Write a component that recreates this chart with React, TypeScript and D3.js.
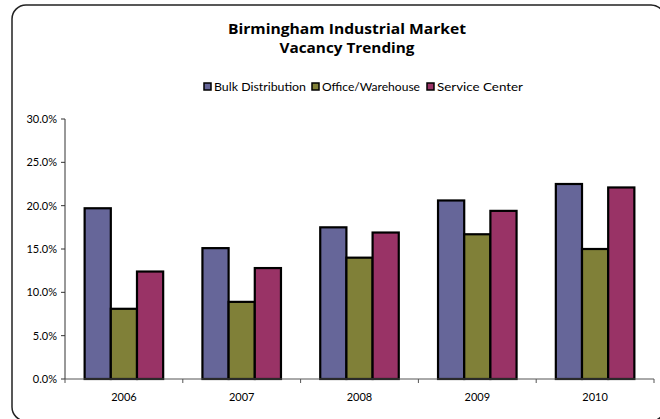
import React from "react";
import * as d3 from "d3";

const years = ["2006", "2007", "2008", "2009", "2010"];
const seriesNames = ["Bulk Distribution", "Office/Warehouse", "Service Center"];
const bulkDistribution = [19.7, 15.1, 17.5, 20.6, 22.5];
const officeWarehouse = [8.1, 8.9, 14.0, 16.7, 15.0];
const serviceCenter = [12.4, 12.8, 16.9, 19.4, 22.1];
const seriesColors = ["#666699", "#808038", "#993366"];
const yTicks = [0, 5, 10, 15, 20, 25, 30];

export default function App() {
  const W = 660, H = 419;
  const left = 65, right = 654, top = 119, bottom = 379;
  const font = "'Gill Sans', Lato, 'Open Sans', sans-serif";
  const titleFont = "'Open Sans', Lato, sans-serif";
  const x = d3.scaleBand().domain(years).range([left, right]).paddingInner(0).paddingOuter(0);
  const x1 = d3.scaleBand().domain(seriesNames).range([0, x.bandwidth()]).paddingInner(0).paddingOuter(0.75);
  const y = d3.scaleLinear().domain([0, 30]).range([bottom, top]);
  const data = [bulkDistribution, officeWarehouse, serviceCenter];

  const legendItems = [
    { name: seriesNames[0], x: 204, w: 92 },
    { name: seriesNames[1], x: 312, w: 98 },
    { name: seriesNames[2], x: 427, w: 86 },
  ];

  return (
    <svg width={W} height={H} style={{ position: "absolute", left: 0, top: 0, background: "#fff" }}>
      <rect x={12} y={5} width={653} height={416} rx={14} ry={14} fill="#fff" stroke="#222" strokeWidth={1.5} />
      <text x={347} y={34} textAnchor="middle" fontFamily={titleFont} fontWeight="bold" fontSize={15} fill="#000"
        textLength={238} lengthAdjust="spacingAndGlyphs">
        Birmingham Industrial Market
      </text>
      <text x={347} y={53} textAnchor="middle" fontFamily={titleFont} fontWeight="bold" fontSize={15} fill="#000"
        textLength={135} lengthAdjust="spacingAndGlyphs">
        Vacancy Trending
      </text>
      {legendItems.map((l, i) => (
        <g key={l.name}>
          <rect x={l.x} y={83} width={7} height={7} fill={seriesColors[i]} stroke="#000" strokeWidth={1.5} />
          <text x={l.x + 10} y={91} fontFamily={font} fontSize={11} fill="#000"
            textLength={l.w} lengthAdjust="spacingAndGlyphs">{l.name}</text>
        </g>
      ))}
      {years.map((yr, j) => (
        <g key={yr}>
          {seriesNames.map((s, i) => {
            const v = data[i][j];
            const bx = (x(yr) as number) + (x1(s) as number);
            return (
              <rect key={s} x={bx} y={y(v)} width={x1.bandwidth()} height={y(0) - y(v)}
                fill={seriesColors[i]} stroke="#000" strokeWidth={2.2} />
            );
          })}
        </g>
      ))}
      <line x1={left} x2={left} y1={top} y2={bottom} stroke="#333" strokeWidth={1} />
      {yTicks.map((t) => (
        <g key={t}>
          <line x1={left - 4} x2={left} y1={y(t)} y2={y(t)} stroke="#333" strokeWidth={1} />
          <text x={left - 8} y={y(t) + 4} textAnchor="end" fontFamily={font} fontSize={11} fill="#000">
            {t.toFixed(1) + "%"}
          </text>
        </g>
      ))}
      <line x1={left} x2={right} y1={bottom} y2={bottom} stroke="#555" strokeWidth={1} />
      {years.map((yr) => (
        <line key={"t" + yr} x1={(x(yr) as number) + x.bandwidth()} x2={(x(yr) as number) + x.bandwidth()}
          y1={bottom} y2={bottom + 4} stroke="#555" strokeWidth={1} />
      ))}
      <line x1={left} x2={left} y1={bottom} y2={bottom + 4} stroke="#555" strokeWidth={1} />
      {years.map((yr) => (
        <text key={"l" + yr} x={(x(yr) as number) + x.bandwidth() / 2} y={401} textAnchor="middle"
          fontFamily={font} fontSize={11} fill="#000">{yr}</text>
      ))}
    </svg>
  );
}
